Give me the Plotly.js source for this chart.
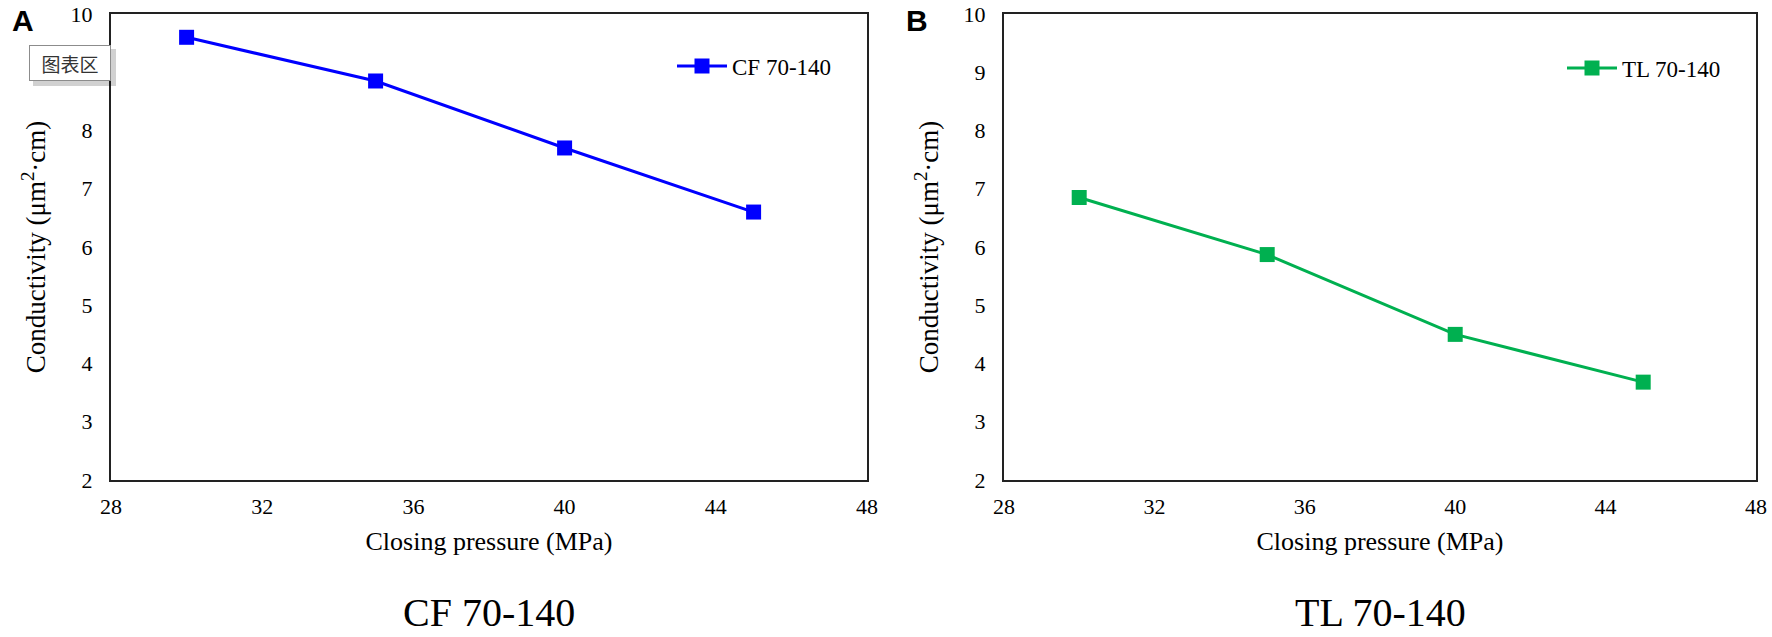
<!DOCTYPE html>
<html>
<head>
<meta charset="utf-8">
<script src="https://cdn.plot.ly/plotly-3.0.1.min.js"></script>
<style>
  html, body { margin: 0; padding: 0; background: #fff; }
  #chart { width: 1772px; height: 637px; }
</style>
</head>
<body>
<div id="chart"></div>
<script>
// closing pressure (MPa) and conductivity (um2.cm)
var pressure = [30, 35, 40, 45]
var cfConductivity = [9.6, 8.85, 7.7, 6.6]
var tlConductivity = [6.85, 5.87, 4.5, 3.68]
var cfName = 'CF 70-140'
var tlName = 'TL 70-140'
var xTicks = [28, 32, 36, 40, 44, 48]
var yTicksA = [2, 3, 4, 5, 6, 7, 8, 10]   // the "9" of panel A sits under the tooltip
var yTicksB = [2, 3, 4, 5, 6, 7, 8, 9, 10]

const W = 1772, H = 637
const serif = 'Liberation Serif, Times New Roman, serif'
const px = (v) => v / W          // pixel -> paper x
const py = (v) => 1 - v / H      // pixel -> paper y

function xAxis(domain) {
    return {
        domain: domain,
        range: [28, 48],
        tickvals: xTicks,
        ticks: '',
        ticklabelstandoff: 6,
        tickfont: {family: serif, size: 22, color: '#000'},
        showgrid: false,
        zeroline: false,
        showline: true,
        mirror: true,
        linecolor: '#222',
        linewidth: 2,
        fixedrange: true,
        title: {text: 'Closing pressure (MPa)', font: {family: serif, size: 26, color: '#000'}, standoff: 13},
    }
}

function yAxis(domain, anchor, ticks) {
    return {
        domain: domain,
        anchor: anchor,
        range: [2, 10],
        tickvals: ticks,
        ticks: '',
        ticklabelstandoff: 12,
        tickfont: {family: serif, size: 22, color: '#000'},
        showgrid: false,
        zeroline: false,
        showline: true,
        mirror: true,
        linecolor: '#222',
        linewidth: 2,
        fixedrange: true,
        title: {text: 'Conductivity (μm<sup>2</sup>·cm)', font: {family: serif, size: 27, color: '#000'}, standoff: 17},
    }
}

var yDom = [py(480), py(14)]

var traces = [
    {
        x: pressure, y: cfConductivity, name: cfName,
        xaxis: 'x', yaxis: 'y', legend: 'legend',
        type: 'scatter', mode: 'lines+markers',
        line: {color: '#0000FF', width: 3},
        marker: {symbol: 'square', size: 15, color: '#0000FF'},
    },
    {
        x: pressure, y: tlConductivity, name: tlName,
        xaxis: 'x2', yaxis: 'y2', legend: 'legend2',
        type: 'scatter', mode: 'lines+markers',
        line: {color: '#00B050', width: 3},
        marker: {symbol: 'square', size: 15, color: '#00B050'},
    },
]

var legendBase = {
    xanchor: 'left', yanchor: 'middle',
    bgcolor: 'rgba(0,0,0,0)',
    font: {family: serif, size: 23, color: '#000'},
    itemwidth: 50,
}

function note(text, x, y, font) {
    return {text: text, xref: 'paper', yref: 'paper', x: px(x), y: py(y),
            xanchor: 'center', yanchor: 'middle', showarrow: false, font: font}
}

var letterFont = {family: 'Liberation Sans, Arial, sans-serif', size: 30, color: '#000'}
var captionFont = {family: serif, size: 40, color: '#000'}

var tooltip = note('图表区', 70, 63, {family: 'Noto Sans CJK SC, sans-serif', size: 19, color: '#333'})
tooltip.width = 78
tooltip.height = 32
tooltip.bgcolor = '#fff'
tooltip.bordercolor = '#8c8c8c'
tooltip.borderwidth = 1

var layout = {
    width: W, height: H,
    margin: {l: 0, r: 0, t: 0, b: 0},
    paper_bgcolor: '#fff',
    plot_bgcolor: '#fff',
    hovermode: false,
    showlegend: true,
    xaxis: xAxis([px(111), px(867)]),
    yaxis: yAxis(yDom, 'x', yTicksA),
    xaxis2: xAxis([px(1004), px(1756)]),
    yaxis2: yAxis(yDom, 'x2', yTicksB),
    legend: Object.assign({x: px(672), y: py(66)}, legendBase),
    legend2: Object.assign({x: px(1562), y: py(68)}, legendBase),
    shapes: [
        // soft shadow behind the "图表区" tooltip
        {type: 'rect', xref: 'paper', yref: 'paper', layer: 'above',
         x0: px(33), x1: px(116), y0: py(86), y1: py(49),
         fillcolor: 'rgba(0,0,0,0.18)', line: {width: 0}},
    ],
    annotations: [
        note('<b>A</b>', 23, 21, letterFont),
        note('<b>B</b>', 917, 21, letterFont),
        tooltip,
        note(cfName, 489, 612, captionFont),
        note(tlName, 1380, 612, captionFont),
    ],
}

Plotly.newPlot('chart', traces, layout, {displayModeBar: false, staticPlot: true})
</script>
</body>
</html>
